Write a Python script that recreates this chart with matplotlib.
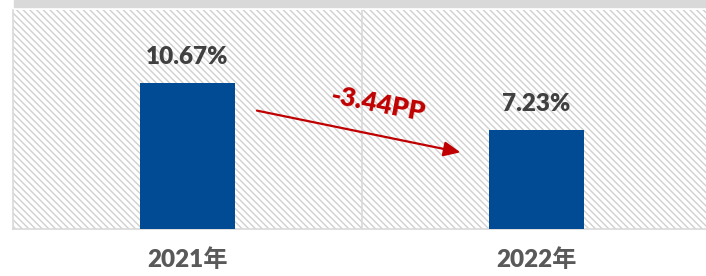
import matplotlib.pyplot as plt
from matplotlib.patches import Rectangle

plt.rcParams['font.family'] = ['Lato', 'Noto Sans CJK SC', 'DejaVu Sans']
plt.rcParams['hatch.linewidth'] = 1.0

years = ['2021年', '2022年']
rates = [10.67, 7.23]
rate_labels = ['10.67%', '7.23%']
change_label = '-3.44PP'

fig = plt.figure(figsize=(7.06, 2.76), dpi=100)
ax = fig.add_axes([13 / 706, 47 / 276, 698 / 706, 219 / 276])

# top grey band
fig.patches.append(Rectangle((14 / 706, 269 / 276), 692 / 706, 7 / 276,
                             transform=fig.transFigure, color='#d9d9d9', zorder=0))

# hatched plot background
ax.add_patch(Rectangle((0, 0), 1, 1, transform=ax.transAxes, facecolor='white',
                       edgecolor='#d0d0d0', hatch='\\\\\\\\\\', linewidth=0, zorder=0))

x = range(len(years))
ax.bar(x, rates, width=0.272, color='#004b93', zorder=3)

for xi, v, lab in zip(x, rates, rate_labels):
    ax.text(xi, v + 1.1, lab, ha='center', va='bottom', fontsize=17.5,
            fontweight='heavy', color='#404040', zorder=4)

# change arrow
ax.annotate('', xy=(0.782, 5.6), xytext=(0.199, 8.65),
            arrowprops=dict(arrowstyle='-|>,head_length=1.0,head_width=0.45',
                            color='#c00000', lw=1.6, shrinkA=0, shrinkB=0), zorder=5)
ax.text(0.545, 9.1, change_label, ha='center', va='center', rotation=-11,
        fontsize=19, fontweight='heavy', color='#c00000', zorder=5)

ax.axvline(0.5, color='#d9d9d9', lw=1.2, zorder=2)
ax.set_xlim(-0.5, 1.5)
ax.set_ylim(0, 16)
ax.set_yticks([])
ax.set_xticks(list(x))
ax.set_xticklabels(years, fontsize=17.5, fontweight='heavy', color='#595959')
ax.tick_params(axis='x', length=0, pad=14)
for s in ['top', 'right']:
    ax.spines[s].set_visible(False)
for s in ['left', 'bottom']:
    ax.spines[s].set_color('#d9d9d9')
    ax.spines[s].set_linewidth(1.2)

fig.savefig('out.png', dpi=100)
